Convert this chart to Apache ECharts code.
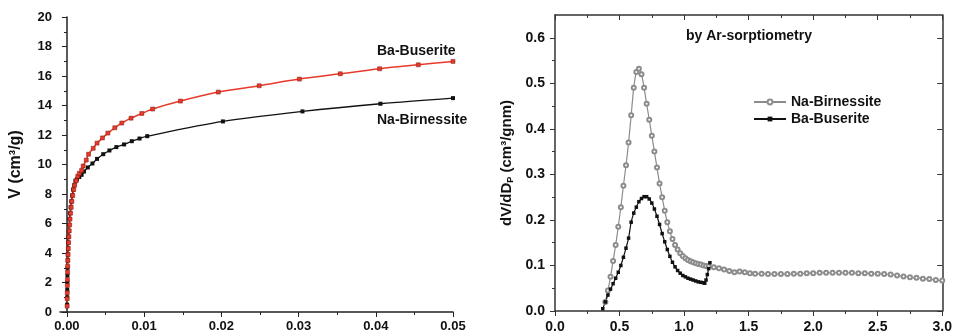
<!DOCTYPE html>
<html lang="en">
<head>
<meta charset="UTF-8">
<script src="https://cdn.jsdelivr.net/npm/echarts@6/dist/echarts.min.js"></script>
<title>Isotherm and pore size distribution</title>
<style>
  html, body { margin: 0; padding: 0; background: #fff; }
  #chart { width: 955px; height: 336px; }
</style>
</head>
<body>
<div id="chart"></div>
<script>
// left panel: adsorption isotherm, [relative pressure, V]
const baBuseriteIso = [
  [0.00002, 0.4], [0.00003, 0.9], [0.00004, 1.3], [0.00005, 1.8], [0.00006, 2.2],
  [0.00008, 2.7], [0.0001, 3.1], [0.00012, 3.5], [0.00015, 3.9], [0.00018, 4.3],
  [0.00021, 4.7], [0.00025, 5.1], [0.0003, 5.5], [0.00035, 5.9], [0.0004, 6.3],
  [0.00047, 6.7], [0.00055, 7.1], [0.00064, 7.5], [0.00075, 7.9], [0.00088, 8.3],
  [0.001, 8.6], [0.0012, 8.9], [0.0014, 9.2], [0.0016, 9.4], [0.0019, 9.6],
  [0.0021, 9.9], [0.0025, 10.3], [0.0028, 10.7], [0.0034, 11.1], [0.0039, 11.45],
  [0.0046, 11.8], [0.0053, 12.13], [0.0062, 12.49], [0.0071, 12.81], [0.0083, 13.14],
  [0.0097, 13.46], [0.0111, 13.76], [0.0147, 14.3], [0.0196, 14.91], [0.0249, 15.34],
  [0.0301, 15.79], [0.0354, 16.15], [0.0405, 16.49], [0.0455, 16.76], [0.05, 16.99]
];
const naBirnessiteIso = [
  [0.00002, 0.5], [0.00003, 1.0], [0.00004, 1.5], [0.00005, 2.0], [0.00006, 2.5],
  [0.00008, 3.0], [0.0001, 3.5], [0.00012, 3.9], [0.00014, 4.3], [0.00017, 4.7],
  [0.0002, 5.1], [0.00024, 5.5], [0.00028, 5.9], [0.00033, 6.3], [0.0004, 6.7],
  [0.00048, 7.1], [0.00057, 7.5], [0.00068, 7.9], [0.0008, 8.3], [0.00095, 8.6],
  [0.0011, 8.9], [0.0013, 9.0], [0.0016, 9.15], [0.0019, 9.3], [0.0022, 9.52],
  [0.0027, 9.8], [0.0033, 10.07], [0.0039, 10.38], [0.0047, 10.7], [0.0055, 10.95],
  [0.0064, 11.18], [0.0074, 11.36], [0.0084, 11.58], [0.0094, 11.76], [0.0104, 11.92],
  [0.0202, 12.92], [0.0305, 13.6], [0.0406, 14.12], [0.05, 14.5]
];
const isoXTicks = [0, 0.01, 0.02, 0.03, 0.04, 0.05];
const isoXMinor = [0.005, 0.015, 0.025, 0.035, 0.045];

// right panel: pore size distribution, [Dp (nm), dV/dDp]
const naBirnessitePsd = [
  [0.39, 0.02], [0.41, 0.045], [0.43, 0.075], [0.45, 0.11], [0.47, 0.145],
  [0.49, 0.185], [0.51, 0.228], [0.53, 0.275], [0.55, 0.32], [0.57, 0.37],
  [0.59, 0.43], [0.61, 0.49], [0.63, 0.525], [0.65, 0.532], [0.67, 0.52],
  [0.69, 0.49], [0.71, 0.455], [0.73, 0.42], [0.75, 0.385], [0.77, 0.35],
  [0.79, 0.315], [0.81, 0.28], [0.83, 0.25], [0.85, 0.22], [0.87, 0.195],
  [0.89, 0.175], [0.91, 0.158], [0.93, 0.145], [0.95, 0.135], [0.97, 0.127],
  [0.99, 0.121], [1.01, 0.116], [1.03, 0.112], [1.05, 0.109], [1.07, 0.107],
  [1.09, 0.105], [1.11, 0.103], [1.13, 0.102], [1.15, 0.1], [1.17, 0.099],
  [1.19, 0.098], [1.23, 0.096], [1.27, 0.094], [1.31, 0.091], [1.35, 0.088],
  [1.39, 0.085], [1.43, 0.087], [1.47, 0.085], [1.51, 0.083], [1.55, 0.082],
  [1.6, 0.082], [1.65, 0.081], [1.7, 0.081], [1.75, 0.081], [1.8, 0.081],
  [1.85, 0.082], [1.9, 0.082], [1.95, 0.083], [2.0, 0.083], [2.05, 0.084],
  [2.1, 0.084], [2.15, 0.084], [2.2, 0.084], [2.25, 0.084], [2.3, 0.084],
  [2.35, 0.083], [2.4, 0.083], [2.45, 0.082], [2.5, 0.082], [2.55, 0.081],
  [2.6, 0.08], [2.65, 0.078], [2.7, 0.076], [2.75, 0.074], [2.8, 0.073],
  [2.85, 0.071], [2.9, 0.07], [2.95, 0.068], [3.0, 0.067]
];
const baBuseritePsd = [
  [0.37, 0.005], [0.39, 0.02], [0.41, 0.035], [0.43, 0.048], [0.45, 0.06],
  [0.47, 0.072], [0.49, 0.085], [0.51, 0.1], [0.53, 0.118], [0.55, 0.138],
  [0.57, 0.16], [0.59, 0.195], [0.61, 0.215], [0.63, 0.228], [0.65, 0.24],
  [0.67, 0.247], [0.69, 0.251], [0.71, 0.251], [0.73, 0.246], [0.75, 0.237],
  [0.77, 0.224], [0.79, 0.208], [0.81, 0.19], [0.83, 0.17], [0.85, 0.152],
  [0.87, 0.135], [0.89, 0.12], [0.91, 0.107], [0.93, 0.097], [0.95, 0.089],
  [0.97, 0.083], [0.99, 0.078], [1.01, 0.075], [1.03, 0.072], [1.05, 0.07],
  [1.07, 0.068], [1.09, 0.066], [1.11, 0.064], [1.13, 0.063], [1.15, 0.062],
  [1.16, 0.061], [1.17, 0.068], [1.18, 0.08], [1.19, 0.093], [1.2, 0.106]
];
const psdYTicks = [0, 0.1, 0.2, 0.3, 0.4, 0.5, 0.6];
const psdYMinor = [0.05, 0.15, 0.25, 0.35, 0.45, 0.55];

const FONT = 'Arial, "Liberation Sans", sans-serif';
const AXIS_COLOR = '#222';
const labelStyle = { color: '#111', fontFamily: FONT, fontWeight: 'bold' };

const chart = echarts.init(document.getElementById('chart'));

const option = {
  animation: false,
  grid: [
    { left: 60, right: 502, top: 17, bottom: 24 },
    { left: 555, right: 11, top: 15, bottom: 25 }
  ],
  legend: {
    data: ['Na-Birnessite', 'Ba-Buserite'],
    orient: 'vertical',
    left: 748,
    top: 90,
    itemWidth: 32,
    itemHeight: 6,
    itemGap: 3,
    textStyle: { fontFamily: FONT, fontWeight: 'bold', fontSize: 14, color: '#111' }
  },
  graphic: [
    { type: 'text', left: 377, top: 44, style: { text: 'Ba-Buserite', font: 'bold 14px ' + FONT, fill: '#111' } },
    { type: 'text', left: 377, top: 113, style: { text: 'Na-Birnessite', font: 'bold 14px ' + FONT, fill: '#111' } },
    { type: 'text', left: 686, top: 29, style: { text: 'by Ar-sorptiometry', font: 'bold 14px ' + FONT, fill: '#111' } }
  ],
  xAxis: [
    { // left panel main
      type: 'value', gridIndex: 0, min: -0.0009, max: 0.05, position: 'bottom',
      axisLine: { lineStyle: { color: AXIS_COLOR, width: 1.5 } },
      axisTick: { length: 5, customValues: isoXTicks, lineStyle: { color: AXIS_COLOR } },
      axisLabel: { ...labelStyle, fontSize: 13, margin: 8, customValues: isoXTicks,
        formatter: v => v.toFixed(2) },
      splitLine: { show: false }
    },
    { // left panel minor ticks
      type: 'value', gridIndex: 0, min: -0.0009, max: 0.05, position: 'bottom',
      axisLine: { show: false },
      axisTick: { length: 3, customValues: isoXMinor, lineStyle: { color: AXIS_COLOR } },
      axisLabel: { show: false },
      splitLine: { show: false }
    },
    { // right panel bottom
      type: 'value', gridIndex: 1, min: 0, max: 3, interval: 0.5, position: 'bottom',
      axisLine: { onZero: false, lineStyle: { color: '#333', width: 1.5 } },
      axisTick: { length: 5, lineStyle: { color: '#333' } },
      minorTick: { show: true, splitNumber: 2, length: 3, lineStyle: { color: '#333' } },
      axisLabel: { ...labelStyle, fontSize: 14, margin: 9, formatter: v => v.toFixed(1) },
      splitLine: { show: false }
    },
    { // right panel top border
      type: 'value', gridIndex: 1, min: 0, max: 3, interval: 0.5, position: 'top',
      axisLine: { onZero: false, lineStyle: { color: '#333', width: 1.5 } },
      axisTick: { inside: true, length: 5, lineStyle: { color: '#333' } },
      minorTick: { show: true, splitNumber: 2, length: 3, lineStyle: { color: '#333' } },
      axisLabel: { show: false },
      splitLine: { show: false }
    }
  ],
  yAxis: [
    { // left panel
      type: 'value', gridIndex: 0, min: 0, max: 20, interval: 2, position: 'left',
      name: 'V (cm³/g)', nameLocation: 'middle', nameGap: 36, nameRotate: 90,
      nameTextStyle: { ...labelStyle, fontSize: 16 },
      axisLine: { show: true, lineStyle: { color: AXIS_COLOR, width: 1.5 } },
      axisTick: { show: true, length: 5, lineStyle: { color: AXIS_COLOR } },
      minorTick: { show: true, splitNumber: 2, length: 3, lineStyle: { color: AXIS_COLOR } },
      axisLabel: { ...labelStyle, fontSize: 13, margin: 8 },
      splitLine: { show: false }
    },
    { // right panel left
      type: 'value', gridIndex: 1, min: 0, max: 0.65, position: 'left',
      name: 'dV/dD{sub|P} (cm³/gnm)', nameLocation: 'middle', nameGap: 40, nameRotate: 90,
      nameTextStyle: { ...labelStyle, fontSize: 15,
        rich: { sub: { fontFamily: FONT, fontWeight: 'bold', fontSize: 9, color: '#111', padding: [8, 0, 0, 0] } } },
      axisLine: { show: true, onZero: false, lineStyle: { color: '#333', width: 1.5 } },
      axisTick: { show: true, length: 5, customValues: psdYTicks, lineStyle: { color: '#333' } },
      axisLabel: { ...labelStyle, fontSize: 14, margin: 10, customValues: psdYTicks,
        formatter: v => v.toFixed(1) },
      splitLine: { show: false }
    },
    { // right panel left minor ticks
      type: 'value', gridIndex: 1, min: 0, max: 0.65, position: 'left',
      axisLine: { show: false },
      axisTick: { show: true, length: 3, customValues: psdYMinor, lineStyle: { color: '#333' } },
      axisLabel: { show: false },
      splitLine: { show: false }
    },
    { // right panel right border
      type: 'value', gridIndex: 1, min: 0, max: 0.65, position: 'right',
      axisLine: { show: true, onZero: false, lineStyle: { color: '#333', width: 1.5 } },
      axisTick: { show: true, inside: true, length: 5, customValues: psdYTicks, lineStyle: { color: '#333' } },
      axisLabel: { show: false },
      splitLine: { show: false }
    }
  ],
  series: [
    {
      name: 'Na-Birnessite isotherm', type: 'line', xAxisIndex: 0, yAxisIndex: 0,
      data: naBirnessiteIso, smooth: 0.3,
      symbol: 'rect', symbolSize: 4,
      lineStyle: { color: '#111', width: 1.3 },
      itemStyle: { color: '#111' }
    },
    {
      name: 'Ba-Buserite isotherm', type: 'line', xAxisIndex: 0, yAxisIndex: 0,
      data: baBuseriteIso, smooth: 0.3,
      symbol: 'rect', symbolSize: 4,
      lineStyle: { color: '#e8392b', width: 1.5 },
      itemStyle: { color: '#e8392b', borderColor: '#7a1a12', borderWidth: 0.5 }
    },
    {
      name: 'Na-Birnessite', type: 'line', xAxisIndex: 2, yAxisIndex: 1,
      data: naBirnessitePsd, smooth: 0.3,
      symbol: 'emptyCircle', symbolSize: 4,
      lineStyle: { color: '#8c8c8c', width: 1.2 },
      itemStyle: { color: '#8c8c8c', borderWidth: 1 }
    },
    {
      name: 'Ba-Buserite', type: 'line', xAxisIndex: 2, yAxisIndex: 1,
      data: baBuseritePsd, smooth: 0.3,
      symbol: 'rect', symbolSize: 3.5,
      lineStyle: { color: '#111', width: 1.2 },
      itemStyle: { color: '#111' }
    }
  ]
};

chart.setOption(option);
</script>
</body>
</html>
